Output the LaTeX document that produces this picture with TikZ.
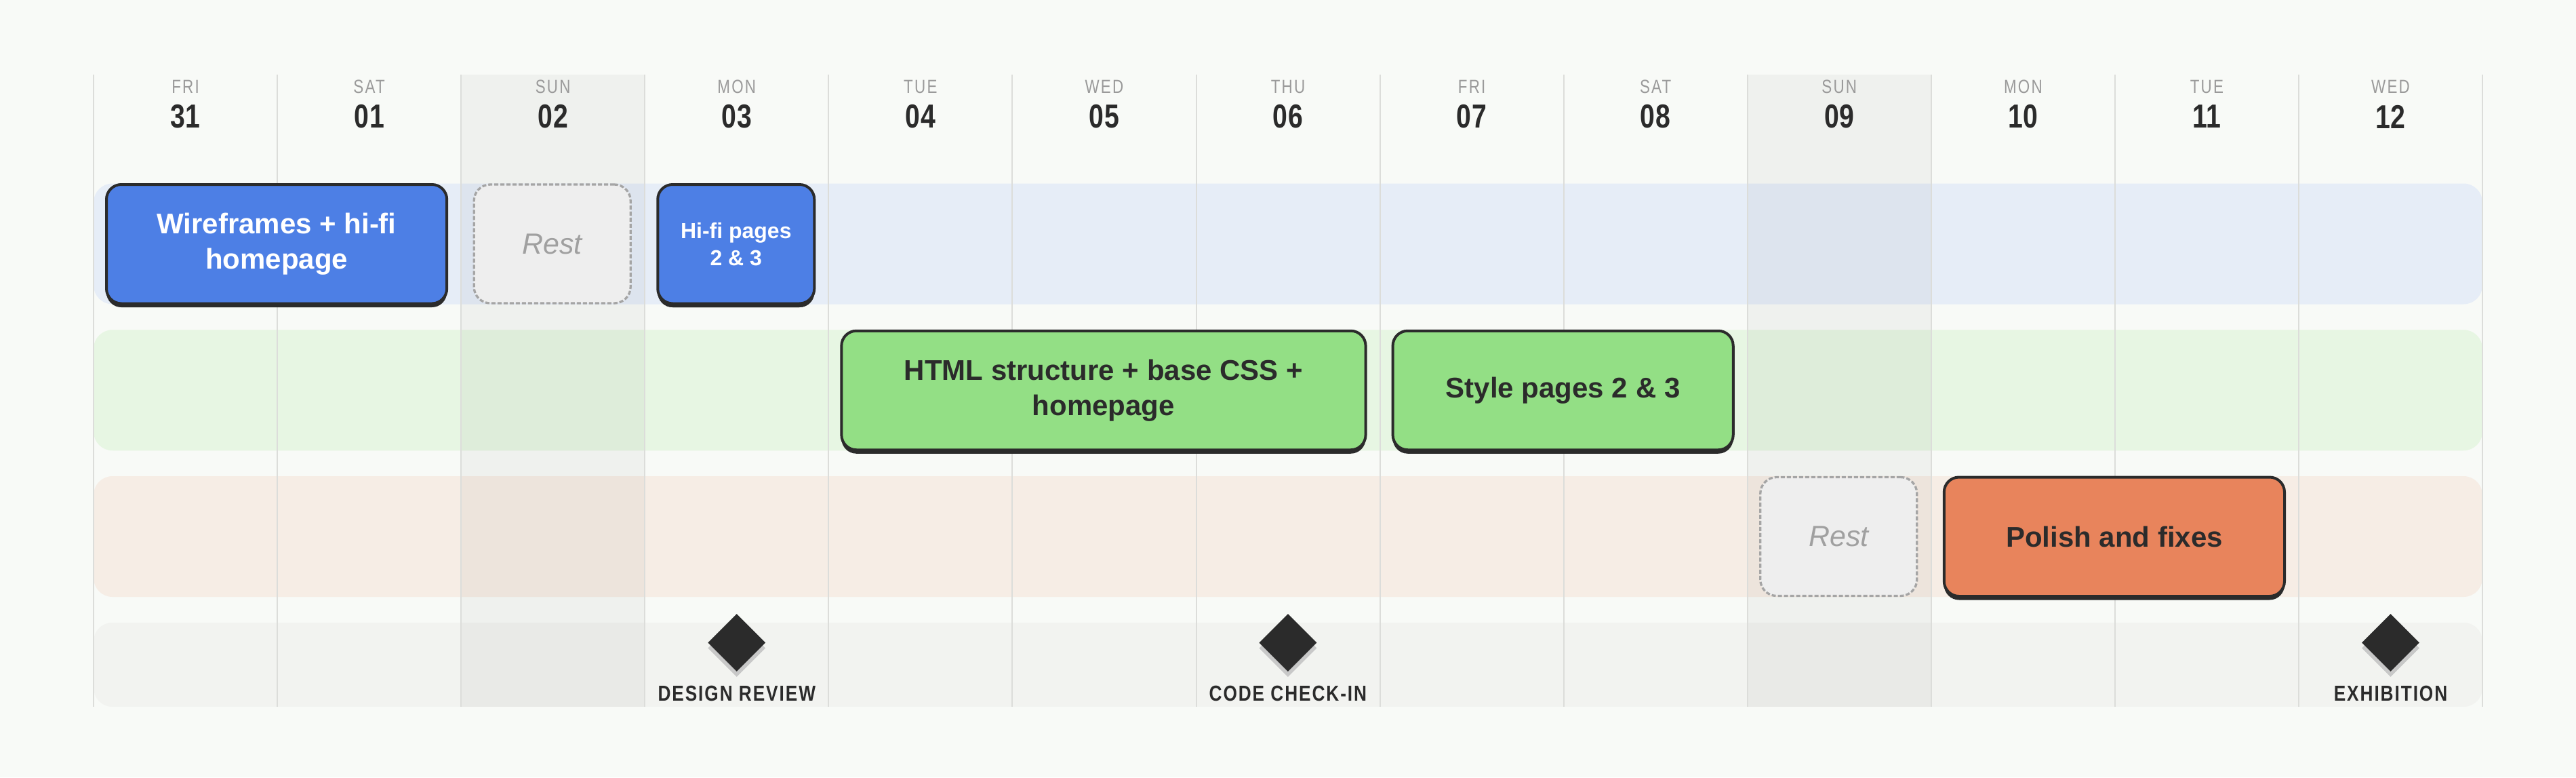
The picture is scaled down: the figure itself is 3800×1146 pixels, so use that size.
\documentclass[tikz,border=0pt]{standalone}
\usepackage{fontspec}
\setmainfont{Liberation Sans}
\newfontfamily\dayfont{Liberation Sans}[FakeStretch=0.8,LetterSpace=8]
\newfontfamily\numfont{Liberation Sans}[FakeStretch=0.8,LetterSpace=2]
\newfontfamily\msfont{Liberation Sans}[FakeStretch=0.82,LetterSpace=6]
\usetikzlibrary{shapes.geometric,shadows}
\definecolor{bgc}{HTML}{F8FAF7}
\definecolor{gridc}{HTML}{DCDDDA}
\definecolor{darkc}{HTML}{2B2B2B}
\definecolor{bluelane}{HTML}{E6EDF7}
\definecolor{greenlane}{HTML}{E7F6E3}
\definecolor{orangelane}{HTML}{F6EDE5}
\definecolor{mslane}{HTML}{F2F3F0}
\definecolor{bluetask}{HTML}{4D7FE5}
\definecolor{greentask}{HTML}{93DF85}
\definecolor{orangetask}{HTML}{E8845C}
\definecolor{restfill}{HTML}{EEEEEE}
\definecolor{restline}{HTML}{A5A5A5}
\definecolor{resttext}{HTML}{A0A0A0}
\definecolor{daytext}{HTML}{9A9A9A}
\definecolor{diashadow}{HTML}{C8C8C8}
\tikzset{
  lane/.style={rounded corners=28pt},
  gridline/.style={draw=gridc, line width=2pt},
  sunday/.style={fill=black, fill opacity=0.035},
  dayname/.style={text=daytext, inner sep=0pt, font=\dayfont\fontsize{28}{28}\selectfont},
  daynum/.style={text=darkc, inner sep=0pt, font=\numfont\bfseries\fontsize{49}{49}\selectfont},
  task/.style={draw=darkc, line width=4pt, rounded corners=22pt, inner sep=0pt,
    align=center, minimum height=175.5pt,
    font=\bfseries\fontsize{42}{52}\selectfont,
    drop shadow={shadow xshift=0pt, shadow yshift=-5.5pt, opacity=1, fill=darkc}},
  smalltask/.style={task, font=\bfseries\fontsize{32}{40}\selectfont},
  bluebox/.style={task, fill=bluetask, text=white},
  greenbox/.style={task, fill=greentask, text=darkc},
  orangebox/.style={task, fill=orangetask, text=darkc},
  restbox/.style={draw=restline, line width=3.3pt, dash pattern=on 6pt off 3pt,
    fill=restfill, rounded corners=24pt, inner sep=0pt, minimum height=175pt,
    minimum width=231pt, text=resttext,
    font=\itshape\fontsize{43}{50}\selectfont},
  milestone/.style={diamond, fill=darkc, inner sep=0pt, minimum width=85pt,
    minimum height=85pt, aspect=1,
    drop shadow={shadow xshift=0pt, shadow yshift=-8pt, opacity=1, fill=diashadow}},
  mslabel/.style={text=darkc, inner sep=0pt, font=\msfont\bfseries\fontsize{32}{32}\selectfont},
}
\begin{document}
\begin{tikzpicture}[x=1pt,y=-1pt]
\useasboundingbox (0,0) rectangle (3800,1146);
\fill[bgc] (0,0) rectangle (3800,1146);
% lanes
\fill[bluelane, lane] (138,270.5) rectangle (3662,448.5);
\fill[greenlane, lane] (138,486.25) rectangle (3662,664.25);
\fill[orangelane, lane] (138,702) rectangle (3662,880);
\fill[mslane, lane] (138,917.75) rectangle (3662,1042);
% sundays
\fill[sunday] (680.16,110) rectangle (951.24,1042);
\fill[sunday] (2577.72,110) rectangle (2848.8,1042);
% grid
\foreach \i in {0,...,13} {
  \draw[gridline] ({138+271.08*\i},110) -- ({138+271.08*\i},1042);
}
% header
\foreach \d/\n [count=\i from 0] in {FRI/31,SAT/01,SUN/02,MON/03,TUE/04,WED/05,THU/06,FRI/07,SAT/08,SUN/09,MON/10,TUE/11,WED/12} {
  \node[dayname] (dn\i) at ({138+271.08*(\i+0.5)},128) {\d};
  \node[daynum] (dd\i) at ({138+271.08*(\i+0.5)},172) {\n};
}
% design lane
\node[bluebox, minimum width=502.16pt] (wire) at (408.08,359.75) {Wireframes + hi-fi\\homepage};
\node[restbox] (rest1) at (814.7,359.5) {Rest};
\node[bluebox, smalltask, fill=bluetask, text=white, minimum width=231.08pt] (hifi) at (1085.78,359.75) {Hi-fi pages\\2 \& 3};
% build lane
\node[greenbox, minimum width=773.24pt] (html) at (1627.94,575.5) {HTML structure + base CSS +\\homepage};
\node[greenbox, minimum width=502.16pt] (style) at (2305.64,575.5) {Style pages 2 \& 3};
% polish lane
\node[restbox] (rest2) at (2712.26,791) {Rest};
\node[orangebox, minimum width=502.16pt] (polish) at (3118.88,791.25) {Polish and fixes};
% milestones
\node[milestone] (m1) at (1086.78,947.5) {};
\node[mslabel] (m1l) at (1086.78,1022) {DESIGN REVIEW};
\node[milestone] (m2) at (1899.9,947.5) {};
\node[mslabel] (m2l) at (1899.9,1022) {CODE CHECK-IN};
\node[milestone] (m3) at (3526.5,947.5) {};
\node[mslabel] (m3l) at (3526.5,1022) {EXHIBITION};
\end{tikzpicture}
\end{document}
